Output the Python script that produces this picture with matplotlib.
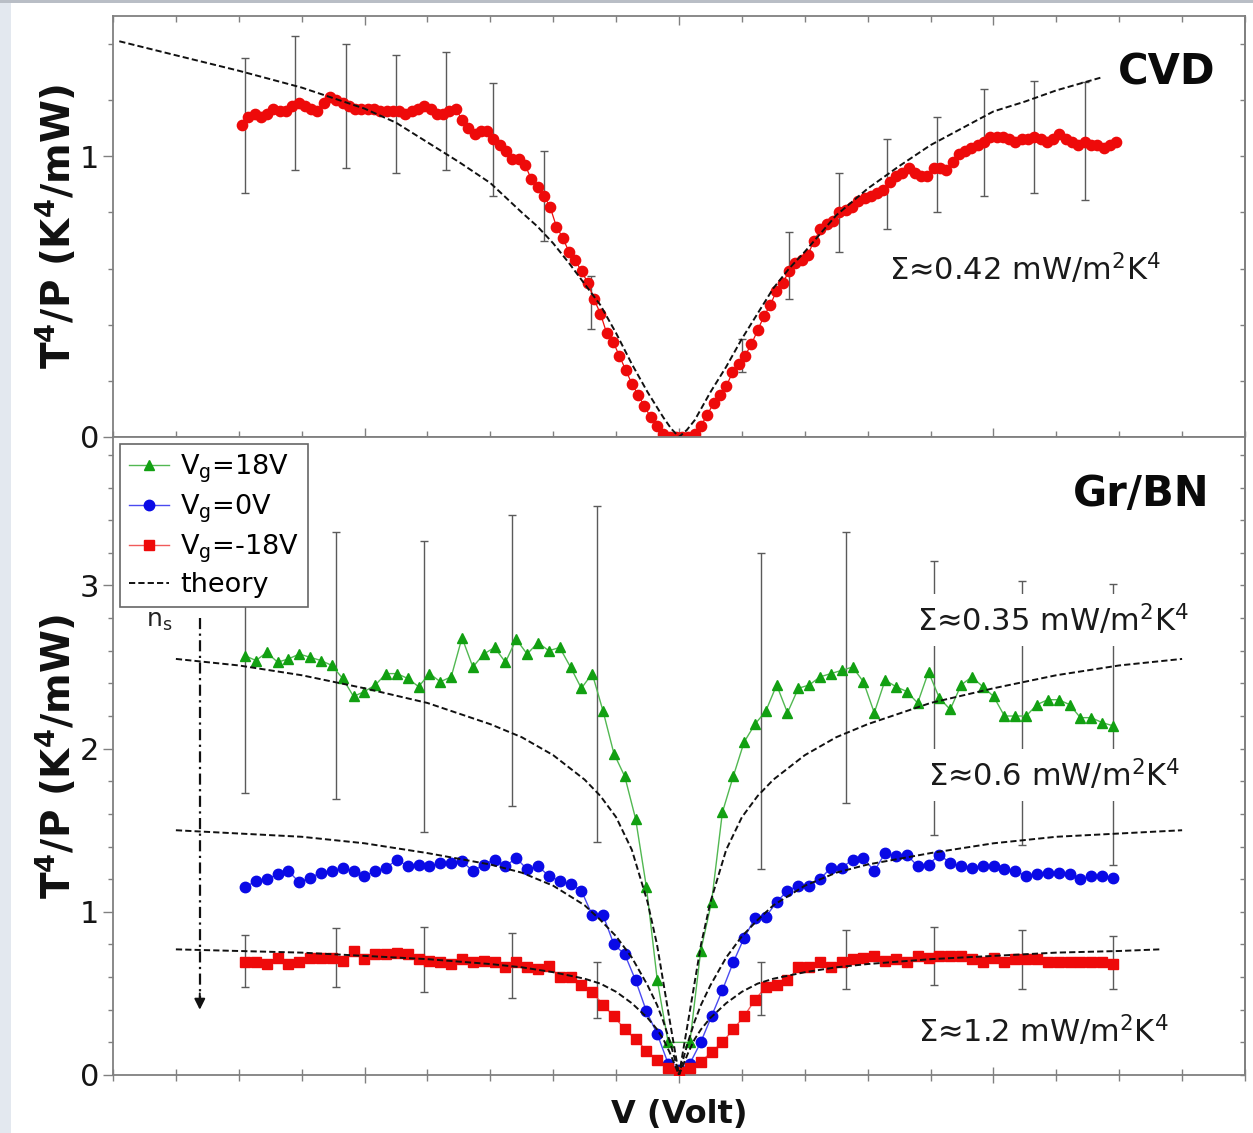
import numpy as np
import matplotlib
matplotlib.use("Agg")
import matplotlib.pyplot as plt
from matplotlib.ticker import MultipleLocator, NullFormatter
from matplotlib.patches import Rectangle

# ---------------- CVD graphene (upper panel) ----------------
cvd_v = np.linspace(-1.39, 1.39, 140)
cvd_y = [1.11, 1.14, 1.15, 1.14, 1.15, 1.17, 1.16, 1.16, 1.18, 1.19,
         1.18, 1.17, 1.16, 1.19, 1.21, 1.20, 1.19, 1.18, 1.17, 1.17,
         1.17, 1.17, 1.16, 1.16, 1.16, 1.16, 1.15, 1.16, 1.17, 1.18,
         1.17, 1.15, 1.15, 1.16, 1.17, 1.13, 1.10, 1.08, 1.09, 1.09,
         1.06, 1.04, 1.02, 0.99, 0.99, 0.97, 0.92, 0.89, 0.86, 0.82,
         0.75, 0.71, 0.66, 0.63, 0.59, 0.55, 0.49, 0.44, 0.37, 0.34,
         0.29, 0.24, 0.19, 0.15, 0.11, 0.07, 0.04, 0.01, 0.00, 0.00,
         0.00, 0.00, 0.01, 0.04, 0.08, 0.12, 0.15, 0.18, 0.23, 0.26,
         0.29, 0.33, 0.38, 0.43, 0.47, 0.52, 0.55, 0.59, 0.62, 0.63,
         0.65, 0.70, 0.74, 0.76, 0.77, 0.80, 0.81, 0.82, 0.84, 0.85,
         0.86, 0.87, 0.88, 0.91, 0.93, 0.94, 0.96, 0.94, 0.93, 0.93,
         0.96, 0.96, 0.95, 0.98, 1.01, 1.02, 1.03, 1.04, 1.05, 1.07,
         1.07, 1.07, 1.06, 1.05, 1.06, 1.06, 1.07, 1.06, 1.05, 1.06,
         1.08, 1.06, 1.05, 1.04, 1.05, 1.04, 1.04, 1.03, 1.04, 1.05]

cvd_err_v = [-1.38, -1.22, -1.06, -0.90, -0.74, -0.59, -0.43, -0.28,
             0.20, 0.35, 0.51, 0.66, 0.82, 0.97, 1.13, 1.29]
cvd_err_y = [1.11, 1.19, 1.18, 1.15, 1.16, 1.06, 0.86, 0.48,
             0.29, 0.61, 0.80, 0.90, 0.97, 1.05, 1.07, 1.055]
cvd_err = [0.24, 0.24, 0.22, 0.21, 0.21, 0.20, 0.16, 0.095,
           0.06, 0.12, 0.14, 0.16, 0.17, 0.19, 0.20, 0.21]

cvd_theory_v = [-1.78, -1.6, -1.4, -1.2, -1.0, -0.9, -0.8, -0.7, -0.6, -0.5,
                -0.45, -0.4, -0.35, -0.3, -0.25, -0.2, -0.15, -0.1, -0.05,
                -0.025, 0.0, 0.025, 0.05, 0.1, 0.15, 0.2, 0.25, 0.3, 0.35,
                0.4, 0.5, 0.6, 0.7, 0.8, 0.9, 1.0, 1.1, 1.2, 1.34]
cvd_theory_y = [1.41, 1.36, 1.305, 1.245, 1.17, 1.12, 1.05, 0.98, 0.905, 0.80,
                0.75, 0.69, 0.62, 0.545, 0.47, 0.37, 0.26, 0.16, 0.07,
                0.03, 0.0, 0.025, 0.06, 0.16, 0.25, 0.35, 0.44, 0.53, 0.60,
                0.66, 0.79, 0.885, 0.965, 1.04, 1.10, 1.16, 1.195, 1.235, 1.28]

# ---------------- Gr/BN (lower panel) ----------------
bn_v = np.linspace(-1.38, 1.38, 81)
nan = np.nan
vg_p18 = [2.57, 2.54, 2.59, 2.53, 2.55, 2.58, 2.56, 2.54, 2.51, 2.43,
          2.32, 2.35, 2.39, 2.46, 2.46, 2.43, 2.38, 2.46, 2.41, 2.44,
          2.68, 2.50, 2.58, 2.62, 2.53, 2.67, 2.58, 2.65, 2.60, 2.62,
          2.50, 2.37, 2.46, 2.23, 1.97, 1.83, 1.57, 1.15, 0.58, 0.20,
          nan,
          0.20, 0.76, 1.06, 1.61, 1.83, 2.04, 2.15, 2.23, 2.39, 2.22,
          2.37, 2.39, 2.44, 2.46, 2.48, 2.50, 2.41, 2.22, 2.42, 2.38,
          2.35, 2.28, 2.47, 2.31, 2.24, 2.39, 2.44, 2.38, 2.32, 2.20,
          2.20, 2.20, 2.27, 2.30, 2.30, 2.27, 2.19, 2.19, 2.16, 2.14]
vg_0 = [1.15, 1.19, 1.20, 1.23, 1.25, 1.18, 1.21, 1.24, 1.25, 1.27,
        1.25, 1.22, 1.25, 1.27, 1.32, 1.28, 1.29, 1.28, 1.30, 1.30,
        1.31, 1.25, 1.29, 1.32, 1.28, 1.33, 1.26, 1.28, 1.22, 1.19,
        1.17, 1.13, 0.98, 0.98, 0.80, 0.74, 0.58, 0.39, 0.25, 0.07,
        0.03,
        0.07, 0.20, 0.36, 0.52, 0.69, 0.84, 0.96, 0.97, 1.06, 1.13,
        1.16, 1.16, 1.20, 1.27, 1.27, 1.32, 1.33, 1.25, 1.36, 1.34,
        1.35, 1.28, 1.29, 1.35, 1.30, 1.28, 1.27, 1.28, 1.28, 1.26,
        1.25, 1.22, 1.23, 1.24, 1.24, 1.23, 1.20, 1.22, 1.22, 1.21]
vg_m18 = [0.69, 0.69, 0.68, 0.72, 0.68, 0.69, 0.72, 0.72, 0.72, 0.70,
          0.76, 0.71, 0.74, 0.74, 0.75, 0.74, 0.71, 0.70, 0.69, 0.68,
          0.71, 0.69, 0.70, 0.69, 0.66, 0.69, 0.66, 0.65, 0.67, 0.60,
          0.60, 0.55, 0.51, 0.43, 0.36, 0.28, 0.22, 0.15, 0.09, 0.04,
          0.02,
          0.04, 0.08, 0.14, 0.20, 0.28, 0.36, 0.46, 0.54, 0.55, 0.58,
          0.66, 0.66, 0.69, 0.66, 0.69, 0.71, 0.72, 0.73, 0.70, 0.71,
          0.69, 0.73, 0.72, 0.73, 0.73, 0.73, 0.71, 0.69, 0.72, 0.69,
          0.71, 0.71, 0.71, 0.69, 0.69, 0.69, 0.69, 0.69, 0.69, 0.68]

bn_err_v = [-1.38, -1.09, -0.81, -0.53, -0.26, 0.26, 0.53, 0.81, 1.09, 1.38]
p18_err_y = [2.57, 2.51, 2.38, 2.54, 2.46, 2.23, 2.50, 2.31, 2.22, 2.15]
p18_err = [0.84, 0.82, 0.89, 0.89, 1.03, 0.97, 0.83, 0.84, 0.81, 0.86]
m18_err_y = [0.70, 0.72, 0.71, 0.67, 0.52, 0.53, 0.71, 0.73, 0.71, 0.69]
m18_err = [0.16, 0.18, 0.20, 0.20, 0.17, 0.16, 0.18, 0.18, 0.18, 0.16]

theory_v = [-1.6, -1.4, -1.2, -1.0, -0.8, -0.6, -0.5, -0.4, -0.3, -0.25, -0.2,
            -0.15, -0.1, -0.07, -0.05, -0.03, -0.015, 0.0, 0.015, 0.03, 0.05,
            0.07, 0.1, 0.15, 0.2, 0.25, 0.3, 0.4, 0.5, 0.6, 0.8, 1.0, 1.2,
            1.4, 1.6]
theory_p18 = [2.55, 2.51, 2.45, 2.37, 2.28, 2.15, 2.07, 1.96, 1.81, 1.71, 1.58,
              1.38, 1.06, 0.80, 0.57, 0.34, 0.17, 0.0, 0.17, 0.34, 0.57,
              0.80, 1.06, 1.38, 1.58, 1.71, 1.81, 1.96, 2.07, 2.15, 2.28, 2.37,
              2.45, 2.51, 2.55]
theory_0 = [1.50, 1.48, 1.46, 1.42, 1.36, 1.29, 1.24, 1.16, 1.04, 0.95, 0.85,
            0.72, 0.55, 0.43, 0.33, 0.21, 0.11, 0.0, 0.11, 0.21, 0.33,
            0.43, 0.55, 0.72, 0.85, 0.95, 1.04, 1.16, 1.24, 1.29, 1.36, 1.42,
            1.46, 1.48, 1.50]
theory_m18_v = [-1.6, -1.4, -1.2, -1.0, -0.8, -0.6, -0.5, -0.4, -0.3, -0.25, -0.2,
                -0.15, -0.1, -0.07, -0.05, -0.03, -0.015, 0.0, 0.015, 0.03, 0.05,
                0.07, 0.1, 0.15, 0.2, 0.25, 0.3, 0.4, 0.5, 0.6, 0.8, 1.0, 1.2,
                1.4, 1.53]
theory_m18 = [0.77, 0.76, 0.75, 0.73, 0.71, 0.68, 0.66, 0.63, 0.59, 0.56, 0.51,
              0.44, 0.35, 0.28, 0.22, 0.14, 0.07, 0.0, 0.07, 0.14, 0.22,
              0.28, 0.35, 0.44, 0.51, 0.56, 0.59, 0.63, 0.66, 0.68, 0.71, 0.73,
              0.75, 0.76, 0.77]

legend_labels = ["V$_\\mathregular{g}$=18V", "V$_\\mathregular{g}$=0V",
                 "V$_\\mathregular{g}$=-18V", "theory"]

# ---------------- styling ----------------
RED = "#ee0a0a"
GREEN = "#12a012"
GREEN_LINE = "#52b852"
BLUE = "#0a0ae6"
SPINE = "#808080"
ERR = "#5a5a5a"
DASH = (0, (3.2, 1.6))

plt.rcParams["font.family"] = ["DejaVu Sans"]
plt.rcParams["mathtext.fontset"] = "dejavusans"

W, H = 1253, 1133
fig = plt.figure(figsize=(W / 100, H / 100), dpi=100)
fig.patch.set_facecolor("white")
fig.patches.append(Rectangle((0, 0), 11 / W, 1, transform=fig.transFigure,
                             facecolor="#e3e8ef", edgecolor="none", zorder=0))
fig.patches.append(Rectangle((0, 1 - 3 / H), 1, 3 / H, transform=fig.transFigure,
                             facecolor="#b9bec6", edgecolor="none", zorder=0))

left, right = 113 / W, 1245 / W
ax1 = fig.add_axes([left, 1 - 437 / H, right - left, (437 - 16) / H])
ax2 = fig.add_axes([left, 1 - 1075 / H, right - left, (1075 - 437) / H])


def style_axes(ax, ymax, xdir, top_ticks):
    ax.set_xlim(-1.8, 1.8)
    ax.set_ylim(0, ymax)
    for s in ax.spines.values():
        s.set_color(SPINE)
        s.set_linewidth(1.3)
    ax.xaxis.set_major_locator(MultipleLocator(1))
    ax.xaxis.set_minor_locator(MultipleLocator(0.2))
    ax.yaxis.set_major_locator(MultipleLocator(1))
    ax.yaxis.set_minor_locator(MultipleLocator(0.2))
    ax.xaxis.set_major_formatter(NullFormatter())
    ax.tick_params(axis="x", which="both", direction=xdir, top=top_ticks,
                   bottom=True, color=SPINE, width=1.0)
    if xdir == "in":
        ax.tick_params(axis="x", which="major", length=6.5)
        ax.tick_params(axis="x", which="minor", length=4.5)
    else:
        ax.tick_params(axis="x", which="major", length=11)
        ax.tick_params(axis="x", which="minor", length=8.5)
    ax.tick_params(axis="y", which="both", direction="out", left=True,
                   right=False, color=SPINE, width=1.0, labelsize=22,
                   labelcolor="#151515", pad=3)
    ax.tick_params(axis="y", which="major", length=7)
    ax.tick_params(axis="y", which="minor", length=3.6)
    sec = ax.secondary_yaxis("right")
    sec.spines["right"].set_color(SPINE)
    sec.spines["right"].set_linewidth(1.3)
    sec.yaxis.set_major_locator(MultipleLocator(0.2))
    sec.yaxis.set_major_formatter(NullFormatter())
    sec.tick_params(axis="y", which="both", direction="in", length=3.8,
                    color=SPINE, width=1.0)
    ax.set_ylabel("T$^\\mathbf{4}$/P (K$^\\mathbf{4}$/mW)", fontsize=28,
                  fontweight="bold", color="#111111")
    ax.yaxis.set_label_coords(-0.031, 0.5)


style_axes(ax1, 1.5, "in", True)
style_axes(ax2, 3.91, "inout", False)

# ---- upper panel ----
ax1.errorbar(cvd_err_v, cvd_err_y, yerr=cvd_err, fmt="none", ecolor=ERR,
             elinewidth=1.0, capsize=3.2, capthick=1.0, zorder=2)
ax1.plot(cvd_v, cvd_y, color=RED, lw=0.9, marker="o", ms=7.4,
         markeredgecolor=RED, markerfacecolor=RED, zorder=3)
ax1.plot(cvd_theory_v, cvd_theory_y, color="#111111", lw=1.4, ls=DASH, zorder=4)
ax1.text(1.55, 1.30, "CVD", fontsize=30, fontweight="bold", ha="center",
         va="center", color="#0a0a0a")
ax1.text(1.10, 0.60, "Σ≈0.42 mW/m$^2$K$^4$", fontsize=22, ha="center",
         va="center", color="#1a1a1a")

# ---- lower panel ----
ax2.errorbar(bn_err_v, p18_err_y, yerr=p18_err, fmt="none", ecolor=ERR,
             elinewidth=1.0, capsize=3.2, capthick=1.0, zorder=2)
ax2.errorbar(bn_err_v, m18_err_y, yerr=m18_err, fmt="none", ecolor=ERR,
             elinewidth=1.0, capsize=3.2, capthick=1.0, zorder=2)

g = np.array(vg_p18, dtype=float)
ok = np.isfinite(g)
h_g, = ax2.plot(bn_v[ok], g[ok], color=GREEN_LINE, lw=1.0, marker="^", ms=7,
                markerfacecolor=GREEN, markeredgecolor=GREEN, zorder=3,
                label=legend_labels[0])
h_b, = ax2.plot(bn_v, vg_0, color="#4a4af0", lw=1.0, marker="o", ms=7.5,
                markerfacecolor=BLUE, markeredgecolor=BLUE, zorder=3,
                label=legend_labels[1])
h_r, = ax2.plot(bn_v, vg_m18, color="#f05a5a", lw=1.0, marker="s", ms=6.8,
                markerfacecolor=RED, markeredgecolor=RED, zorder=3.1,
                label=legend_labels[2])
h_t, = ax2.plot(theory_v, theory_p18, color="#111111", lw=1.4, ls=DASH,
                zorder=4, label=legend_labels[3])
ax2.plot(theory_v, theory_0, color="#111111", lw=1.4, ls=DASH, zorder=4)
ax2.plot(theory_m18_v, theory_m18, color="#111111", lw=1.4, ls=DASH, zorder=4)

box = dict(facecolor="white", edgecolor="none", pad=6)
ax2.text(1.47, 3.56, "Gr/BN", fontsize=30, fontweight="bold", ha="center",
         va="center", color="#0a0a0a")
ax2.text(1.19, 2.79, "Σ≈0.35 mW/m$^2$K$^4$", fontsize=22, ha="center",
         va="center", color="#1a1a1a", bbox=box, zorder=5)
ax2.text(1.194, 1.84, "Σ≈0.6 mW/m$^2$K$^4$", fontsize=22, ha="center",
         va="center", color="#1a1a1a", bbox=box, zorder=5)
ax2.text(1.159, 0.27, "Σ≈1.2 mW/m$^2$K$^4$", fontsize=22, ha="center",
         va="center", color="#1a1a1a", zorder=5)

# carrier-density arrow
ax2.plot([-1.524, -1.524], [2.80, 0.47], color="#111111", lw=1.6,
         ls=(0, (5, 2, 1, 2)), zorder=4)
ax2.annotate("", xy=(-1.524, 0.40), xytext=(-1.524, 0.50),
             arrowprops=dict(arrowstyle="-|>", color="#111111", lw=1.4,
                             mutation_scale=16, shrinkA=0, shrinkB=0))
ax2.text(-1.654, 2.78, "n$_\\mathregular{s}$", fontsize=18, ha="center",
         va="center", color="#222222")

leg = ax2.legend(handles=[h_g, h_b, h_r, h_t], loc="upper left",
                 bbox_to_anchor=(0.0062, 0.989), borderaxespad=0,
                 frameon=True, fancybox=False, framealpha=1, fontsize=19.5,
                 handlelength=1.5, handletextpad=0.4, labelspacing=0.28,
                 borderpad=0.32)
leg.get_frame().set_edgecolor("#666666")
leg.get_frame().set_linewidth(1.2)
leg.set_zorder(6)

ax2.set_xlabel("V (Volt)", fontsize=23, fontweight="bold", color="#111111",
               labelpad=8)

fig.savefig("out.png", dpi=100)
